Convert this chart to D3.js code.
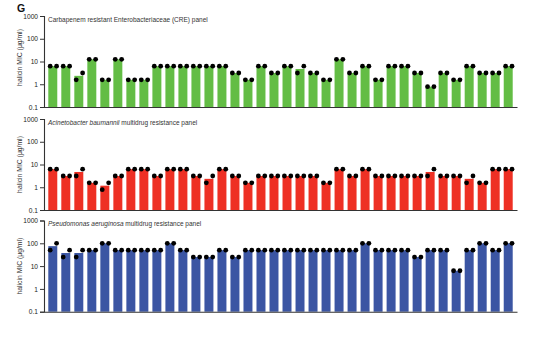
<!DOCTYPE html>
<html><head><meta charset="utf-8">
<script src="https://cdn.jsdelivr.net/npm/d3@7"></script>
<style>body{margin:0;background:#fff}svg{display:block}</style>
</head><body>
<svg id="c" width="550" height="339"></svg>
<script>
const isolates = d3.range(1, 37).map(i => "isolate " + i);
const tickValues = [0.1, 1, 10, 100, 1000];
const tickLabels = ["0.1", "1", "10", "100", "1000"];

const creLeft  = [6.25,6.25,1.5625,12.5,1.5625,12.5,1.5625,1.5625,6.25,6.25,6.25,6.25,6.25,6.25,3.125,1.5625,6.25,3.125,6.25,3.125,3.125,1.5625,12.5,3.125,6.25,1.5625,6.25,6.25,3.125,0.78125,3.125,1.5625,6.25,3.125,3.125,6.25];
const creRight = [6.25,6.25,3.125,12.5,1.5625,12.5,1.5625,1.5625,6.25,6.25,6.25,6.25,6.25,6.25,3.125,1.5625,6.25,3.125,6.25,6.25,3.125,1.5625,12.5,3.125,6.25,1.5625,6.25,6.25,3.125,0.78125,3.125,1.5625,6.25,3.125,3.125,6.25];

const abLeft  = [6.25,3.125,3.125,1.5625,0.78125,3.125,6.25,6.25,3.125,6.25,6.25,3.125,1.5625,6.25,3.125,1.5625,3.125,3.125,3.125,3.125,3.125,1.5625,6.25,3.125,6.25,3.125,3.125,3.125,3.125,3.125,3.125,3.125,1.5625,1.5625,6.25,6.25];
const abRight = [6.25,3.125,6.25,1.5625,1.5625,3.125,6.25,6.25,3.125,6.25,6.25,3.125,3.125,6.25,3.125,1.5625,3.125,3.125,3.125,3.125,3.125,1.5625,6.25,3.125,6.25,3.125,3.125,3.125,3.125,6.25,3.125,3.125,3.125,1.5625,6.25,6.25];

const paLeft  = [50,25,25,50,100,50,50,50,50,100,50,25,25,50,25,50,50,50,50,50,50,50,50,50,100,50,50,50,25,50,50,6.25,50,100,50,100];
const paRight = [100,50,50,50,100,50,50,50,50,100,50,25,25,50,25,50,50,50,50,50,50,50,50,50,100,50,50,50,25,50,50,6.25,50,100,50,100];

const panels = [
  {italic: "", rest: "Carbapenem resistant Enterobacteriaceae (CRE) panel", left: creLeft, right: creRight, color: "#63bd45", top: 16, bottom: 107},
  {italic: "Acinetobacter baumannii", rest: " multidrug resistance panel", left: abLeft, right: abRight, color: "#ee3024", top: 119, bottom: 210},
  {italic: "Pseudomonas aeruginosa", rest: " multidrug resistance panel", left: paLeft, right: paRight, color: "#3b55a3", top: 220.5, bottom: 311.7}
];

const svg = d3.select("#c");
const font = "Liberation Sans, Arial, sans-serif";
const axisColor = "#333";

svg.append("text").attr("x", 17).attr("y", 11.5).attr("font-family", font)
  .attr("font-size", 10.5).attr("font-weight", "bold").attr("fill", "#111").text("G");

const x = d3.scaleBand().domain(isolates).range([44, 517]).paddingInner(0.31).paddingOuter(0.33);

panels.forEach((p, pi) => {
  const y = d3.scaleLog().domain([0.1, 1000]).range([p.bottom, p.top]);
  const g = svg.append("g");

  const means = p.left.map((v, i) => (v + p.right[i]) / 2);

  g.selectAll("rect").data(isolates).join("rect")
    .attr("x", d => x(d))
    .attr("width", x.bandwidth())
    .attr("y", (d, i) => y(means[i]))
    .attr("height", (d, i) => y(0.1) - y(means[i]))
    .attr("fill", p.color);

  const dots = [];
  isolates.forEach((d, i) => {
    const cx = x(d) + x.bandwidth() / 2;
    dots.push({x: cx - 2.6, v: p.left[i]});
    dots.push({x: cx + 3.8, v: p.right[i]});
  });
  g.selectAll("circle").data(dots).join("circle")
    .attr("cx", d => d.x).attr("cy", d => y(d.v)).attr("r", 2.4).attr("fill", "#000");

  const ya = g.append("g").attr("transform", "translate(44,0)")
    .call(d3.axisLeft(y).tickValues(tickValues).tickFormat((d, i) => tickLabels[i]).tickSize(4).tickPadding(2));
  ya.select(".domain").attr("stroke", axisColor).attr("stroke-width", 1.1);
  ya.selectAll(".tick line").attr("stroke", axisColor).attr("stroke-width", 1);
  ya.selectAll(".tick text").attr("font-family", font).attr("font-size", 6.6).attr("fill", "#222");

  const xa = g.append("g").attr("transform", `translate(0,${p.bottom})`)
    .call(d3.axisBottom(x).tickSize(0).tickFormat(""));
  xa.select(".domain").attr("stroke", axisColor).attr("stroke-width", 1.1);
  xa.selectAll(".tick").remove();

  const t = g.append("text").attr("x", 48).attr("y", p.top + 5.5)
    .attr("font-family", font).attr("font-size", 6.5).attr("fill", "#333");
  if (p.italic) t.append("tspan").attr("font-style", "italic").text(p.italic);
  t.append("tspan").text(p.rest);

  const mid = (p.top + p.bottom) / 2 - (pi === 0 ? 4 : 0);
  g.append("text").attr("transform", `translate(22,${mid}) rotate(-90)`)
    .attr("text-anchor", "middle").attr("font-family", font).attr("font-size", 6.8)
    .attr("fill", "#333").text("halicin MIC (μg/ml)");
});
</script>
</body></html>
